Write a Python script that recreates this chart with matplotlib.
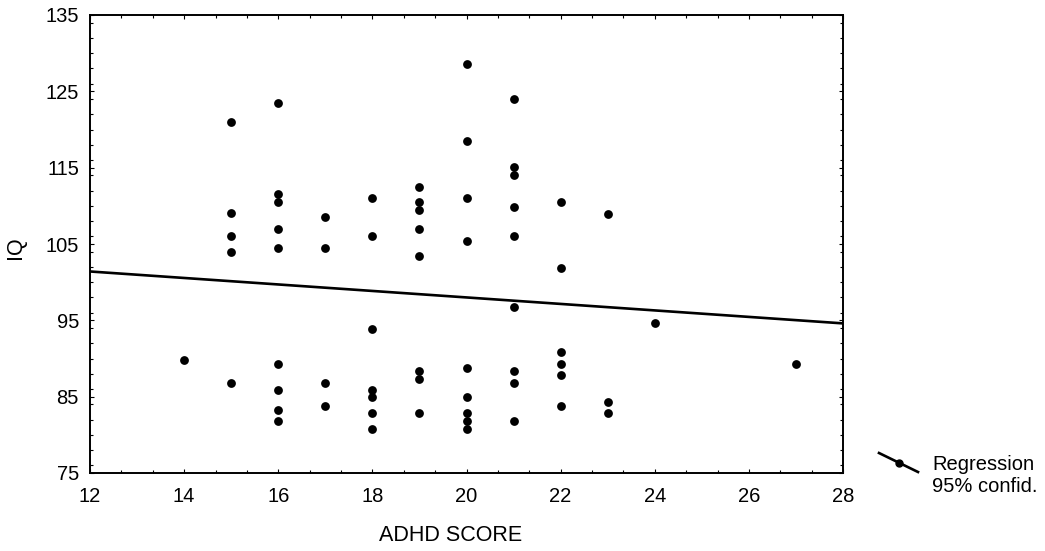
import numpy as np
import matplotlib
matplotlib.use("Agg")
import matplotlib.pyplot as plt
from matplotlib.lines import Line2D
from matplotlib.ticker import MultipleLocator

plt.rcParams['font.family'] = ['Liberation Sans', 'DejaVu Sans']

# ADHD score and IQ for each subject
adhd = [14,
        15, 15, 15, 15, 15,
        16, 16, 16, 16, 16, 16, 16, 16, 16,
        17, 17, 17, 17,
        18, 18, 18, 18, 18, 18, 18,
        19, 19, 19, 19, 19, 19, 19, 19,
        20, 20, 20, 20, 20, 20, 20, 20, 20,
        21, 21, 21, 21, 21, 21, 21, 21, 21,
        22, 22, 22, 22, 22, 22,
        23, 23, 23,
        24,
        27]
iq = [89.8,
      121.0, 109.0, 106.0, 104.0, 86.8,
      123.5, 111.6, 110.5, 107.0, 104.5, 89.3, 85.9, 83.3, 81.8,
      108.5, 104.5, 86.8, 83.8,
      111.0, 106.0, 93.8, 85.9, 84.9, 82.8, 80.8,
      112.5, 110.5, 109.5, 107.0, 103.4, 88.4, 87.3, 82.8,
      128.6, 118.5, 111.0, 105.4, 88.8, 84.9, 82.8, 81.8, 80.8,
      124.0, 115.1, 114.0, 109.9, 106.0, 96.8, 88.4, 86.8, 81.8,
      110.5, 101.9, 90.8, 89.3, 87.8, 83.8,
      108.9, 84.3, 82.8,
      94.7,
      89.3]

# fitted regression line: IQ = intercept + slope * ADHD
reg_intercept = 106.5
reg_slope = -0.425

x_ticks = [12, 14, 16, 18, 20, 22, 24, 26, 28]
y_ticks = [75, 85, 95, 105, 115, 125, 135]

W, H = 1045, 551
fig = plt.figure(figsize=(W / 100, H / 100), dpi=100)
ax = fig.add_axes([90 / W, 1 - 473 / H, (843 - 90) / W, (473 - 15) / H])

ax.scatter(adhd, iq, s=40, color='black', zorder=3, linewidths=0)

xl = np.array([x_ticks[0], x_ticks[-1]], dtype=float)
ax.plot(xl, reg_intercept + reg_slope * xl, color='black', lw=1.9, zorder=2)

ax.set_xlim(x_ticks[0], x_ticks[-1])
ax.set_ylim(y_ticks[0], y_ticks[-1])
ax.set_xticks(x_ticks)
ax.set_yticks(y_ticks)
ax.xaxis.set_minor_locator(MultipleLocator(2 / 3))
ax.yaxis.set_minor_locator(MultipleLocator(2))
ax.tick_params(which='both', direction='in', top=True, right=True,
               length=3, width=0.8, labelsize=14.5)
ax.tick_params(axis='x', which='major', pad=10)
ax.tick_params(axis='y', which='major', pad=8)
ax.tick_params(which='minor', length=2)
for s in ax.spines.values():
    s.set_linewidth(1.4)

ax.set_xlabel('ADHD SCORE', fontsize=15.5)
ax.xaxis.set_label_coords((451 - 90) / 753, (473 - 525) / 458)
ax.set_ylabel('IQ', fontsize=15.5)
ax.yaxis.set_label_coords((26 - 90) / 753, (473 - 248) / 458)

# legend
fig.add_artist(Line2D([879 / W, 918 / W], [1 - 453 / H, 1 - 472 / H],
                      color='black', lw=1.9, transform=fig.transFigure))
fig.add_artist(Line2D([899 / W], [1 - 463 / H], marker='o', markersize=5,
                      color='black', transform=fig.transFigure))
fig.text(932 / W, 1 - 464 / H, 'Regression', fontsize=14.5, va='center', ha='left')
fig.text(932 / W, 1 - 487 / H, '95% confid.', fontsize=14.5, va='center', ha='left')

fig.savefig('out.png', dpi=100)
